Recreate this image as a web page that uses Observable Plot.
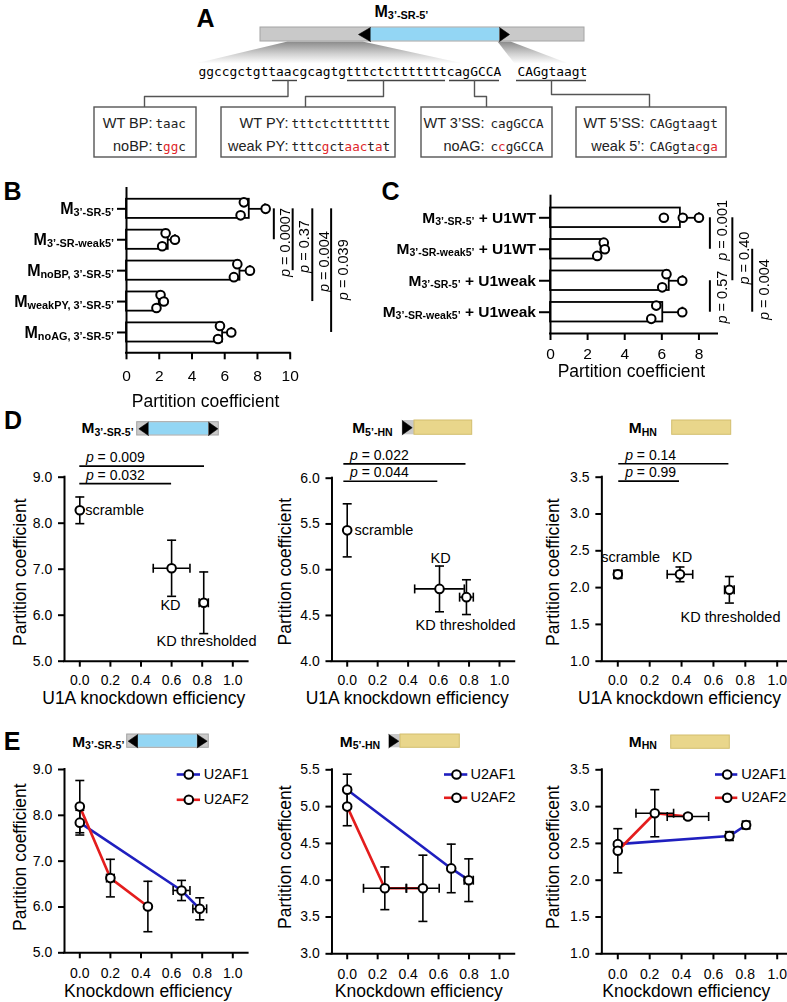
<!DOCTYPE html>
<html><head><meta charset="utf-8">
<script src="https://cdn.jsdelivr.net/npm/d3@7"></script>
<script src="https://cdn.jsdelivr.net/npm/@observablehq/plot@0.6"></script>
<style>
html,body{margin:0;padding:0;background:#fff;}
#fig{position:relative;width:787px;height:1002px;overflow:hidden;background:#fff;}
</style></head>
<body><div id="fig"></div>
<script>
const SANS = "'Liberation Sans', Arial, Helvetica, sans-serif";
const MONO = "'DejaVu Sans Mono', monospace";
const RED = "#e0262a";
const CYAN = "#93d6f4", GRAY = "#c9c9c9", GRAY_EDGE = "#a4a4a4", YELLOW = "#e9d68b", YELLOW_EDGE = "#d3be6e";
const NS = "http://www.w3.org/2000/svg";

// ================= DATA =================
// Panel A (schematic text)
const seqParts = ["ggccgctgtt", "aac", "gcagtg", "tttctcttttttt", "cagGCCA"];
const seq5SS = "CAGgtaagt";
const constructTitle = "M_{3’-SR-5’}";
const boxLabelsWT = ["WT BP:", "WT PY:", "WT 3’SS:", "WT 5’SS:"];
const boxLabelsMut = ["noBP:", "weak PY:", "noAG:", "weak 5’:"];
const boxSeqWT = ["taac", "tttctcttttttt", "cagGCCA", "CAGgtaagt"];
const boxSeqMut = ["t{r:gg}c", "tttc{r:g}ct{r:aac}t{r:a}t", "c{r:c}gGCCA", "CAGgta{r:c}g{r:a}"];
const panelLetters = ["A", "B", "C", "D", "E"];

// Panel B
const bLabels = ["M_{3’-SR-5’}", "M_{3’-SR-weak5’}", "M_{noBP, 3’-SR-5’}", "M_{weakPY, 3’-SR-5’}", "M_{noAG, 3’-SR-5’}"];
const bMean = [7.5, 2.55, 6.93, 2.0, 5.87];
const bSD = [0.95, 0.41, 0.61, 0.28, 0.53];
const bReps = [[[7.17,-1],[8.5,0],[6.97,1]], [[2.39,-1],[2.96,0],[2.18,1]], [[6.77,-1],[7.54,0],[6.56,1]], [[2.08,-1],[2.28,0],[1.83,1]], [[5.71,-1],[6.4,0],[5.59,1]]];
const bTicks = [0, 2, 4, 6, 8, 10];
const bPairs = [[0,1],[0,2],[0,3],[0,4]];
const bP = ["0.0007", "0.37", "0.004", "0.039"];

// Panel C
const cLabels = ["M_{3’-SR-5’} + U1WT", "M_{3’-SR-weak5’} + U1WT", "M_{3’-SR-5’} + U1weak", "M_{3’-SR-weak5’} + U1weak"];
const cMean = [7.0, 2.73, 6.4, 6.05];
const cSD = [1.0, 0.2, 0.72, 1.06];
const cReps = [[[6.11,0],[7.13,0],[8.0,0]], [[2.87,-1],[2.93,0],[2.52,1]], [[6.25,-1],[7.1,0],[6.02,1]], [[5.7,-1],[7.1,0],[5.43,1]]];
const cTicks = [0, 2, 4, 6, 8];
const cPairs = [[0,1],[2,3],[0,2],[1,3]];
const cP = ["0.001", "0.57", "0.40", "0.004"];

// Panel D
const dNames = ["scramble", "KD", "KD thresholded"];
const dHeaders = ["M_{3’-SR-5’}", "M_{5’-HN}", "M_{HN}"];
const d1X = [0, 0.6, 0.81],    d1Y = [8.28, 7.02, 6.27], d1XE = [0, 0.12, 0.03],   d1YE = [0.29, 0.61, 0.67];
const d2X = [0, 0.606, 0.783], d2Y = [5.43, 4.79, 4.70], d2XE = [0, 0.163, 0.045], d2YE = [0.29, 0.25, 0.19];
const d3X = [0, 0.39, 0.70],   d3Y = [2.18, 2.18, 1.97], d3XE = [0.025, 0.08, 0.03], d3YE = [0.055, 0.1, 0.18];
const dP1 = ["0.009", "0.032"], dP2 = ["0.022", "0.044"], dP3 = ["0.14", "0.99"];

// Panel E
const eSeries = ["U2AF1", "U2AF2"];
const eColors = ["#1f1fbf", "#e41d1d"];
const e1X = [[0, 0.665, 0.784], [0, 0.2, 0.445]];
const e1Y = [[7.84, 6.36, 5.96], [8.19, 6.63, 6.01]];
const e1XE = [[0, 0.055, 0.045], [0, 0.025, 0]];
const e1YE = [[0.27, 0.22, 0.24], [0.57, 0.41, 0.55]];
const e2X = [[0, 0.683, 0.798], [0, 0.247, 0.497]];
const e2Y = [[5.23, 4.16, 4.0], [5.0, 3.89, 3.89]];
const e2XE = [[0, 0, 0.03], [0, 0.14, 0.107]];
const e2YE = [[0.21, 0.33, 0.29], [0.26, 0.29, 0.45]];
const e3X = [[0, 0.70, 0.805], [0, 0.232, 0.44]];
const e3Y = [[2.49, 2.60, 2.75], [2.40, 2.91, 2.865]];
const e3XE = [[0, 0.02, 0.02], [0, 0.118, 0.13]];
const e3YE = [[0.03, 0.06, 0.05], [0.3, 0.32, 0.03]];
const xTicksKD = [0, 0.2, 0.4, 0.6, 0.8, 1.0];

// ================= HELPERS =================
const fig = document.getElementById("fig");
const baseStyle = {background: "transparent", overflow: "visible", maxWidth: "none", fontFamily: SANS, color: "black"};

function rich(root) {
  root.querySelectorAll("text").forEach(el => {
    if (el.children.length) return;
    const s = el.textContent;
    if (!/(_\{|\*|\{r:)/.test(s)) return;
    const re = /_\{([^}]*)\}|\*([^*]+)\*|\{r:([^}]*)\}/g;
    const parts = []; let last = 0, m;
    while ((m = re.exec(s)) !== null) {
      if (m.index > last) parts.push({t: s.slice(last, m.index)});
      if (m[1] !== undefined) parts.push({t: m[1], sub: true});
      else if (m[2] !== undefined) parts.push({t: m[2], it: true});
      else parts.push({t: m[3], red: true});
      last = re.lastIndex;
    }
    if (last < s.length) parts.push({t: s.slice(last)});
    el.textContent = "";
    let down = false;
    for (const p of parts) {
      const ts = document.createElementNS(NS, "tspan");
      ts.textContent = p.t;
      if (p.sub) { ts.setAttribute("font-size", "0.68em"); if (!down) ts.setAttribute("dy", "0.2em"); down = true; }
      else if (down) { ts.setAttribute("dy", "-0.136em"); down = false; }
      if (p.it) ts.setAttribute("font-style", "italic");
      if (p.red) ts.setAttribute("fill", RED);
      el.appendChild(ts);
    }
  });
}
function place(svg, left, top) {
  svg.style.position = "absolute";
  svg.style.left = left + "px";
  svg.style.top = top + "px";
  fig.appendChild(svg);
  rich(svg);
  return svg;
}
const capH = {draw(ctx, size) { const w = Math.sqrt(size / Math.PI); ctx.moveTo(-w, 0); ctx.lineTo(w, 0); }};
const capV = {draw(ctx, size) { const w = Math.sqrt(size / Math.PI); ctx.moveTo(0, -w); ctx.lineTo(0, w); }};

// ================= OVERLAY (schematics, letters, headers, legends) =================
const ov = [];
const shade = [
  {z: 0, x: 287, y: 41}, {z: 0, x: 362, y: 41}, {z: 0, x: 463, y: 63}, {z: 0, x: 195, y: 63},
  {z: 1, x: 497, y: 41}, {z: 1, x: 510, y: 41}, {z: 1, x: 568, y: 63}, {z: 1, x: 514, y: 63}
];
ov.push(Plot.line(shade, {x: "x", y: "y", z: "z", fill: "url(#shadeGrad)", stroke: "none"}));

const rects = [], tris = [];
function glyphSR(x0, x1, y0, y1, b0, b1, t0, t1) {
  rects.push({x1: x0, x2: x1, y1: y0, y2: y1, fill: GRAY, stroke: GRAY_EDGE});
  rects.push({x1: b0, x2: b1, y1: y0 + 0.6, y2: y1 - 0.6, fill: CYAN, stroke: "none"});
  const ym = (y0 + y1) / 2, k = tris.length;
  tris.push({z: k, x: b0, y: y0}, {z: k, x: t0, y: ym}, {z: k, x: b0, y: y1});
  tris.push({z: k + 1, x: b1, y: y0}, {z: k + 1, x: t1, y: ym}, {z: k + 1, x: b1, y: y1});
}
function glyph5HN(x0, tip, g1, x1, y0, y1) {
  rects.push({x1: x0, x2: g1, y1: y0, y2: y1, fill: GRAY, stroke: "none"});
  rects.push({x1: g1, x2: x1, y1: y0, y2: y1, fill: YELLOW, stroke: YELLOW_EDGE});
  const k = tris.length + 100;
  tris.push({z: k, x: x0, y: y0}, {z: k, x: tip, y: (y0 + y1) / 2}, {z: k, x: x0, y: y1});
}
function glyphHN(x0, x1, y0, y1) {
  rects.push({x1: x0, x2: x1, y1: y0, y2: y1, fill: YELLOW, stroke: YELLOW_EDGE});
}
glyphSR(260, 584, 27, 41, 370, 499, 358, 509);
glyphSR(136.7, 218.3, 421.7, 435, 148, 208, 138.3, 217.3);
glyphSR(126.7, 208.3, 734, 747.3, 137.3, 196.7, 127.7, 206.7);
glyph5HN(401.7, 411.7, 414, 471.7, 420, 434.3);
glyph5HN(388.3, 398.3, 400, 459.3, 734, 747.3);
glyphHN(671.7, 730.7, 420, 434.3);
glyphHN(670.7, 729.3, 735, 748.3);
ov.push(Plot.rect(rects, {x1: "x1", x2: "x2", y1: "y1", y2: "y2", fill: "fill", stroke: "stroke", strokeWidth: 1}));
ov.push(Plot.line(tris, {x: "x", y: "y", z: "z", fill: "black", stroke: "black", strokeWidth: 0.6}));

ov.push(Plot.text([seqParts.join("")], {x: 198, y: 71, textAnchor: "start", fontFamily: MONO, fontSize: 12.9}));
ov.push(Plot.text([seq5SS], {x: 517, y: 71, textAnchor: "start", fontFamily: MONO, fontSize: 12.9}));
const ul = [[272, 297], [347, 445], [449, 499], [516, 586]];
ov.push(Plot.ruleY(ul, {y: 80, x1: d => d[0], x2: d => d[1], stroke: "#444", strokeWidth: 1.4}));
const conn = [
  [[287.5, 80], [287.5, 96], [144, 96], [144, 107]],
  [[383, 80], [383, 96], [305, 96], [305, 107]],
  [[474, 80], [474, 96], [486, 96], [486, 107]],
  [[551, 80], [551, 94], [649, 94], [649, 107]]
].flatMap((pts, z) => pts.map(([x, y]) => ({x, y, z})));
ov.push(Plot.line(conn, {x: "x", y: "y", z: "z", stroke: "#555", strokeWidth: 1.4}));
const boxes = [[94, 196], [221, 395], [421, 552], [576, 726]];
ov.push(Plot.rect(boxes, {x1: d => d[0], x2: d => d[1], y1: 107, y2: 157, fill: "white", stroke: "#555", strokeWidth: 1.4}));
const labEnd = [152, 288, 484, 644], seqStart = [155, 291, 490, 649];
ov.push(Plot.text(boxLabelsWT, {x: (d, i) => labEnd[i], y: 123, textAnchor: "end", fontSize: 14.5, fill: "#222"}));
ov.push(Plot.text(boxLabelsMut, {x: (d, i) => labEnd[i], y: 146, textAnchor: "end", fontSize: 14.5, fill: "#222"}));
ov.push(Plot.text(boxSeqWT, {x: (d, i) => seqStart[i], y: 123, textAnchor: "start", fontFamily: MONO, fontSize: 12.6, fill: "#222"}));
ov.push(Plot.text(boxSeqMut, {x: (d, i) => seqStart[i], y: 146, textAnchor: "start", fontFamily: MONO, fontSize: 12.6, fill: "#222"}));

const letX = [205, 12, 390, 12.5, 11.7], letY = [18, 191, 191, 420, 741.7];
ov.push(Plot.text(panelLetters, {x: (d, i) => letX[i], y: (d, i) => letY[i], fontSize: 25, fontWeight: "bold"}));
ov.push(Plot.text([constructTitle], {x: 374, y: 11.5, textAnchor: "start", fontSize: 16, fontWeight: "bold"}));
const hdrDX = [81, 351.7, 628.3], hdrEX = [71.7, 339.3, 628.3];
ov.push(Plot.text(dHeaders, {x: (d, i) => hdrDX[i], y: 428, textAnchor: "start", fontSize: 15.5, fontWeight: "bold"}));
ov.push(Plot.text(dHeaders, {x: (d, i) => hdrEX[i], y: 741.7, textAnchor: "start", fontSize: 15.5, fontWeight: "bold"}));

const legX = [[176.7, 200, 188.3, 203.3], [444, 467.3, 456, 470], [715, 737.3, 726.7, 740.7]];
const legY = [[774, 799.3], [774, 797.3], [774, 797.3]];
const legRows = legX.flatMap((lx, p) => eSeries.map((name, s) => ({name, color: eColors[s], x1: lx[0], x2: lx[1], cx: lx[2], tx: lx[3], y: legY[p][s]})));
ov.push(Plot.ruleY(legRows, {y: "y", x1: "x1", x2: "x2", stroke: "color", strokeWidth: 2.6}));
ov.push(Plot.dot(legRows, {x: "cx", y: "y", r: 4.3, fill: "white", stroke: "black", strokeWidth: 2}));
ov.push(Plot.text(legRows, {x: "tx", y: "y", text: "name", textAnchor: "start", fontSize: 14.5}));

const overlay = Plot.plot({
  width: 787, height: 1002, margin: 0,
  x: {type: "identity", axis: null}, y: {type: "identity", axis: null}, color: {type: "identity"},
  style: baseStyle, marks: ov
});
const defs = document.createElementNS(NS, "defs");
defs.innerHTML = '<linearGradient id="shadeGrad" x1="0" y1="0" x2="0" y2="1"><stop offset="0" stop-color="#8a8a8a"/><stop offset="0.55" stop-color="#cfcfcf"/><stop offset="1" stop-color="#ffffff"/></linearGradient>';
overlay.insertBefore(defs, overlay.firstChild);
place(overlay, 0, 0);

// ================= BAR PANELS =================
function barPanel(cfg) {
  const n = cfg.labels.length, idx = d3.range(n);
  const rows = idx.flatMap(i => cfg.reps[i].map(([v, lane]) => ({i, v, lane})));
  const [y0, y1] = cfg.ydom;
  const xmax = cfg.xdom[1];
  return Plot.plot({
    width: cfg.W, height: cfg.H, marginLeft: cfg.mL, marginRight: cfg.mR, marginTop: cfg.mT, marginBottom: cfg.mB,
    style: {...baseStyle, filter: "grayscale(1)"},
    x: {domain: cfg.xdom}, y: {domain: cfg.ydom, reverse: true},
    marks: [
      Plot.rect(idx, {x1: 0, x2: i => cfg.mean[i], y1: i => i - 0.31, y2: i => i + 0.31, fill: "white", stroke: "black", strokeWidth: 1.8}),
      Plot.ruleY(idx, {y: i => i, x1: i => cfg.mean[i], x2: i => cfg.mean[i] + cfg.sd[i], strokeWidth: 1.8}),
      Plot.ruleX(idx, {x: i => cfg.mean[i] + cfg.sd[i], y1: i => i - 0.16, y2: i => i + 0.16, strokeWidth: 1.8}),
      Plot.dot(rows, {x: "v", y: d => d.i + d.lane * 0.21, r: 4.3, fill: "white", stroke: "black", strokeWidth: 2}),
      Plot.ruleX([0], {y1: y0, y2: y1, strokeWidth: 2, strokeLinecap: "square"}),
      Plot.ruleY([y1], {x1: 0, x2: xmax, strokeWidth: 2, strokeLinecap: "square"}),
      Plot.axisX({ticks: cfg.xticks, tickSize: 7, tickPadding: cfg.xPad, fontSize: 15.5, strokeWidth: 2, label: null}),
      Plot.axisY({ticks: idx, tickFormat: i => cfg.labels[i], tickSize: cfg.tickY, tickPadding: 3.5, fontSize: cfg.labSize, fontWeight: "bold", strokeWidth: 2, label: null}),
      Plot.ruleX(cfg.pairs, {x: (d, k) => cfg.pcol[k], y1: d => d[0], y2: d => d[1], strokeWidth: 2}),
      Plot.text(cfg.pvals, {x: (d, k) => cfg.pcol[k] + cfg.pdx, y: (d, k) => cfg.ptextY[k], text: d => "*p* = " + d, rotate: -90, textAnchor: "middle", lineAnchor: "middle", fontSize: 14.5}),
      Plot.text(["Partition coefficient"], {x: cfg.titleX, frameAnchor: "bottom", dy: cfg.titleDy, textAnchor: "middle", lineAnchor: "middle", fontSize: 17.5})
    ]
  });
}
const bSvg = barPanel({
  W: 390, H: 230, mL: 126, mR: 100.3, mT: 13, mB: 52.7,
  xdom: [0, 10], ydom: [-0.658, 4.658], xticks: bTicks, xPad: 10.2, tickY: 9, labSize: 16,
  labels: bLabels, mean: bMean, sd: bSD, reps: bReps,
  pairs: bPairs, pvals: bP, pcol: [9.0, 10.15, 11.35, 12.5], pdx: 0.72, ptextY: [1.09, 1.22, 1.71, 1.97],
  titleX: 4.83, titleDy: 49
});
place(bSvg, 0, 175);
d3.select(bSvg).selectAll('g[aria-label="y-axis tick label"]').attr("font-weight", "bold");

const cSvg = barPanel({
  W: 397, H: 220, mL: 160, mR: 70, mT: 20.7, mB: 62,
  xdom: [0, 9], ydom: [-0.686, 3.676], xticks: cTicks, xPad: 7.8, tickY: 11, labSize: 15.5,
  labels: cLabels, mean: cMean, sd: cSD, reps: cReps,
  pairs: cPairs, pvals: cP, pcol: [8.59, 8.59, 9.8, 10.87], pdx: 0.65, ptextY: [0.4, 2.52, 1.28, 2.28],
  titleX: 4.36, titleDy: 37.5
});
place(cSvg, 390, 175);
d3.select(cSvg).selectAll('g[aria-label="y-axis tick label"]').attr("font-weight", "bold");

// ================= SCATTER PANELS =================
function errMarks(X, Y, XE, YE) {
  const idx = d3.range(X.length);
  const yi = idx.filter(i => YE[i] > 0), xi = idx.filter(i => XE[i] > 0);
  return [
    Plot.ruleX(yi, {x: i => X[i], y1: i => Y[i] - YE[i], y2: i => Y[i] + YE[i], strokeWidth: 1.6}),
    Plot.ruleY(xi, {y: i => Y[i], x1: i => X[i] - XE[i], x2: i => X[i] + XE[i], strokeWidth: 1.6}),
    Plot.dot(yi.flatMap(i => [[X[i], Y[i] - YE[i]], [X[i], Y[i] + YE[i]]]), {x: d => d[0], y: d => d[1], symbol: capH, r: 4.5, fill: "none", stroke: "black", strokeWidth: 1.6}),
    Plot.dot(xi.flatMap(i => [[X[i] - XE[i], Y[i]], [X[i] + XE[i], Y[i]]]), {x: d => d[0], y: d => d[1], symbol: capV, r: 4.5, fill: "none", stroke: "black", strokeWidth: 1.6})
  ];
}
function scatter(cfg) {
  const k = cfg.x1px - cfg.x0px;
  const fl = cfg.x0px - 0.1 * k, fr = cfg.x0px + 1.1 * k;
  const [ymin, ymax] = cfg.ydom;
  const marks = [
    Plot.ruleX([-0.1], {y1: ymin, y2: ymax, strokeWidth: 2, strokeLinecap: "square"}),
    Plot.ruleY([ymin], {x1: -0.1, x2: 1.1, strokeWidth: 2, strokeLinecap: "square"}),
    Plot.axisX({ticks: xTicksKD, tickFormat: ".1f", tickSize: 6, tickPadding: cfg.xPad, fontSize: 14, strokeWidth: 2, label: null}),
    Plot.axisY({ticks: cfg.yticks, tickFormat: ".1f", tickSize: 6, tickPadding: 6.3, fontSize: 14, strokeWidth: 2, label: null})
  ];
  for (const s of cfg.series) if (s.color) marks.push(Plot.line(d3.range(s.X.length), {x: i => s.X[i], y: i => s.Y[i], stroke: s.color, strokeWidth: 2.6}));
  for (const s of cfg.series) marks.push(...errMarks(s.X, s.Y, s.XE, s.YE));
  for (const s of cfg.series) marks.push(Plot.dot(d3.range(s.X.length), {x: i => s.X[i], y: i => s.Y[i], r: 4.3, fill: "white", stroke: "black", strokeWidth: 2}));
  if (cfg.labels) cfg.labels.forEach(([x, y, anchor], i) => marks.push(Plot.text([dNames[i]], {x, y, textAnchor: anchor, lineAnchor: "middle", fontSize: 14.5})));
  if (cfg.pl) {
    marks.push(Plot.ruleY(cfg.pl, {y: d => d[0], x1: d => d[1], x2: d => d[2], strokeWidth: 1.6}));
    marks.push(Plot.text(cfg.pvals, {x: (d, i) => cfg.pl[i][1] + 0.04, y: (d, i) => cfg.pl[i][3], text: d => "*p* = " + d, textAnchor: "start", lineAnchor: "middle", fontSize: 14}));
  }
  marks.push(Plot.text([cfg.xTitle], {x: cfg.xTitleX, frameAnchor: "bottom", dy: cfg.xTitleDy, textAnchor: "middle", lineAnchor: "middle", fontSize: 17.5}));
  marks.push(Plot.text([cfg.yTitle], {frameAnchor: "left", rotate: -90, dx: cfg.yTitleDx, dy: cfg.yTitleDy, textAnchor: "middle", lineAnchor: "middle", fontSize: 17.5}));
  return Plot.plot({
    width: cfg.W, height: cfg.H,
    marginLeft: fl - cfg.L, marginRight: cfg.L + cfg.W - fr, marginTop: cfg.ytop - cfg.T, marginBottom: cfg.T + cfg.H - cfg.ybot,
    x: {domain: [-0.1, 1.1]}, y: {domain: cfg.ydom},
    style: baseStyle, marks
  });
}
const cols = [{L: 0, W: 262, x0px: 79.3, x1px: 232.3}, {L: 262, W: 260, x0px: 346.7, x1px: 499}, {L: 522, W: 278, x0px: 617.3, x1px: 776.7}];
const dCfg = [
  {ytop: 476.7, ydom: [5, 9], yticks: [5, 6, 7, 8, 9], series: [{X: d1X, Y: d1Y, XE: d1XE, YE: d1YE}],
   labels: [[0.035, 8.28, "start"], [0.593, 6.21, "middle"], [0.828, 5.43, "middle"]],
   pl: [[9.24, 0, 0.815, 9.435], [8.86, 0, 0.6, 9.037]], pvals: dP1, xTitleX: 0.418, yTitleDx: -44, yTitleDy: 3},
  {ytop: 477.7, ydom: [4, 6], yticks: [4, 4.5, 5, 5.5, 6], series: [{X: d2X, Y: d2Y, XE: d2XE, YE: d2YE}],
   labels: [[0.048, 5.43, "start"], [0.613, 5.12, "middle"], [0.777, 4.39, "middle"]],
   pl: [[6.157, -0.022, 0.78, 6.248], [5.967, -0.022, 0.595, 6.059]], pvals: dP2, xTitleX: 0.394, yTitleDx: -46.5, yTitleDy: 2},
  {ytop: 476.7, ydom: [1, 3.5], yticks: [1, 1.5, 2, 2.5, 3, 3.5], series: [{X: d3X, Y: d3Y, XE: d3XE, YE: d3YE}],
   labels: [[0.08, 2.405, "middle"], [0.404, 2.405, "middle"], [0.707, 1.598, "middle"]],
   pl: [[3.682, 0.006, 0.697, 3.795], [3.446, 0.006, 0.387, 3.56]], pvals: dP3, xTitleX: 0.387, yTitleDx: -48, yTitleDy: 3}
];
dCfg.forEach((c, p) => {
  const svg = scatter({...cols[p], ...c, T: 440, H: 275, ybot: 660.7, xPad: 8.3,
    xTitle: "U1A knockdown efficiency", xTitleDy: 37.3, yTitle: "Partition coefficient"});
  place(svg, cols[p].L, 440);
});
const eData = [[e1X, e1Y, e1XE, e1YE], [e2X, e2Y, e2XE, e2YE], [e3X, e3Y, e3XE, e3YE]];
const eCfg = [
  {ytop: 769, ybot: 952.3, ydom: [5, 9], yticks: [5, 6, 7, 8, 9], xTitleX: 0.446, xTitleDy: 38.4, yTitle: "Partition coefficient", yTitleDx: -44, yTitleDy: -4},
  {ytop: 769.3, ybot: 953.3, ydom: [3, 5.5], yticks: [3, 3.5, 4, 4.5, 5, 5.5], xTitleX: 0.47, xTitleDy: 37.4, yTitle: "Partition coefficent", yTitleDx: -46.5, yTitleDy: -4.6},
  {ytop: 769.3, ybot: 953.3, ydom: [1, 3.5], yticks: [1, 1.5, 2, 2.5, 3, 3.5], xTitleX: 0.43, xTitleDy: 37.4, yTitle: "Partition coefficent", yTitleDx: -48, yTitleDy: -4.6}
];
eCfg.forEach((c, p) => {
  const [X, Y, XE, YE] = eData[p];
  const series = eSeries.map((name, s) => ({X: X[s], Y: Y[s], XE: XE[s], YE: YE[s], color: eColors[s]}));
  const svg = scatter({...cols[p], ...c, T: 755, H: 247, xPad: 9.4, series, xTitle: "Knockdown efficiency"});
  place(svg, cols[p].L, 755);
});
</script>
</body></html>
